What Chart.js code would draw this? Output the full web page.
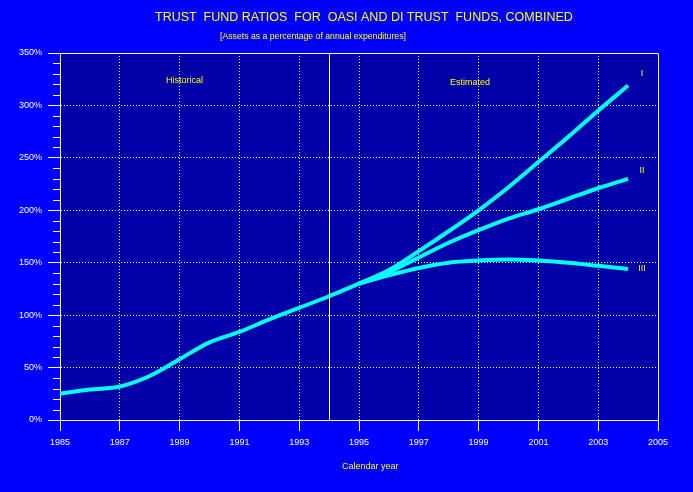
<!DOCTYPE html>
<html>
<head>
<meta charset="utf-8">
<script src="https://cdn.jsdelivr.net/npm/chart.js@4/dist/chart.umd.min.js"></script>
<style>
  html, body { margin: 0; padding: 0; background: #0000ff; }
  #wrap { width: 693px; height: 492px; }
</style>
</head>
<body>
<div id="wrap"><canvas id="ratioChart" width="693" height="492"></canvas></div>
<script>
// historical ratios (percent)
var histYears = [1985, 1986, 1987, 1988, 1989, 1990, 1991, 1992, 1993, 1994, 1995];
var histRatio = [25, 29, 32, 42, 58, 74, 84, 96, 107, 118, 130];

// estimated, by alternative
var estYears = [1995, 1996, 1997, 1998, 1999, 2000, 2001, 2002, 2003, 2004];
var altI   = [130, 143, 161, 180, 200, 222, 246, 270, 295, 319];
var altII  = [130, 141, 155, 169, 181, 192, 201, 211, 221, 230];
var altIII = [130, 138, 145, 150, 152, 153, 152, 150, 147, 144];

var altLabels = ['I', 'II', 'III'];
var yMinorStep = 10;

var cyan = '#00ffff';
var yellow = '#ffff00';

function pts(xs, ys) {
    return xs.map(function (x, i) { return { x: x, y: ys[i] }; });
}

function lineSet(label, data) {
    return {
        label: label,
        data: data,
        borderColor: cyan,
        borderWidth: 4,
        pointRadius: 0,
        fill: false,
        cubicInterpolationMode: 'monotone'
    };
}

var chartDeco = {
    id: 'chartDeco',
    beforeDraw: function (chart) {
        var c = chart.ctx, a = chart.chartArea;
        c.save();
        c.fillStyle = '#0000a8';
        c.fillRect(a.left, a.top, a.right - a.left, a.bottom - a.top);
        c.restore();
    },
    afterDraw: function (chart) {
        var c = chart.ctx, a = chart.chartArea;
        var x = chart.scales.x, y = chart.scales.y;
        c.save();
        c.strokeStyle = '#ffffff';
        c.lineWidth = 1;
        // frame top / right, split line at 1994
        c.beginPath();
        c.moveTo(a.left, a.top + 0.5);
        c.lineTo(a.right + 0.5, a.top + 0.5);
        c.lineTo(a.right + 0.5, a.bottom + 11);
        var xs = Math.round(x.getPixelForValue(1994)) + 0.5;
        c.moveTo(xs, a.top);
        c.lineTo(xs, a.bottom);
        // minor y ticks
        for (var v = 0; v <= 350; v += yMinorStep) {
            if (v % 50 === 0) continue;
            var py = Math.round(y.getPixelForValue(v)) + 0.5;
            c.moveTo(a.left - 7, py);
            c.lineTo(a.left, py);
        }
        c.stroke();

        c.fillStyle = yellow;
        c.textBaseline = 'middle';
        c.textAlign = 'left';
        c.font = '12.5px "Liberation Sans", Arial, sans-serif';
        c.fillText('TRUST  FUND RATIOS  FOR  OASI AND DI TRUST  FUNDS, COMBINED', 155, 18);
        c.font = '8.7px "Liberation Sans", Arial, sans-serif';
        c.fillText('[Assets as a percentage of annual expenditures]', 220, 37);
        c.font = '9px "Liberation Sans", Arial, sans-serif';
        c.fillText('Historical', 166, 81);
        c.fillText('Estimated', 450, 83);
        c.fillText('Calendar year', 342, 467);

        // alternative labels next to line ends
        c.textAlign = 'center';
        var last = estYears.length - 1;
        var ends = [altI[last], altII[last], altIII[last]];
        var dy = [-12, -8, 0];
        altLabels.forEach(function (lab, i) {
            var px = x.getPixelForValue(estYears[last]) + 14;
            var py = y.getPixelForValue(ends[i]) + dy[i];
            c.fillText(lab, px, py);
        });
        c.restore();
    }
};

var config = {
    type: 'line',
    data: {
        datasets: [
            lineSet('Historical', pts(histYears, histRatio)),
            lineSet('I', pts(estYears, altI)),
            lineSet('II', pts(estYears, altII)),
            lineSet('III', pts(estYears, altIII))
        ]
    },
    options: {
        responsive: false,
        animation: false,
        layout: { padding: { top: 53, right: 35, bottom: 0, left: 0 } },
        plugins: {
            legend: { display: false },
            title: { display: false },
            tooltip: { enabled: false }
        },
        scales: {
            x: {
                type: 'linear',
                min: 1985,
                max: 2005,
                afterFit: function (s) { s.height = 72; },
                ticks: {
                    stepSize: 2,
                    color: '#ffffff',
                    padding: 6,
                    maxRotation: 0,
                    font: { family: '"Liberation Sans", Arial, sans-serif', size: 9 },
                    callback: function (v) { return String(v); }
                },
                grid: {
                    color: function (ctx) {
                        var v = ctx.tick && ctx.tick.value;
                        return (v === 1985 || v === 2005) ? 'rgba(0,0,0,0)' : '#ffffff';
                    },
                    tickColor: '#ffffff',
                    tickLength: 11,
                    lineWidth: 1
                },
                border: { display: true, color: '#ffffff', width: 1, dash: [1, 2] }
            },
            y: {
                min: 0,
                max: 350,
                afterFit: function (s) { s.width = 60; },
                ticks: {
                    stepSize: 50,
                    color: '#ffffff',
                    padding: 6,
                    font: { family: '"Liberation Sans", Arial, sans-serif', size: 9 },
                    callback: function (v) { return v + '%'; }
                },
                grid: {
                    color: function (ctx) {
                        var v = ctx.tick && ctx.tick.value;
                        return (v === 0 || v === 350) ? 'rgba(0,0,0,0)' : '#ffffff';
                    },
                    tickColor: '#ffffff',
                    tickLength: 12,
                    lineWidth: 1
                },
                border: { display: true, color: '#ffffff', width: 1, dash: [1, 2] }
            }
        }
    },
    plugins: [chartDeco]
};

var ctx = document.getElementById('ratioChart');
window.ratioChart = new Chart(ctx, config);
</script>
</body>
</html>
